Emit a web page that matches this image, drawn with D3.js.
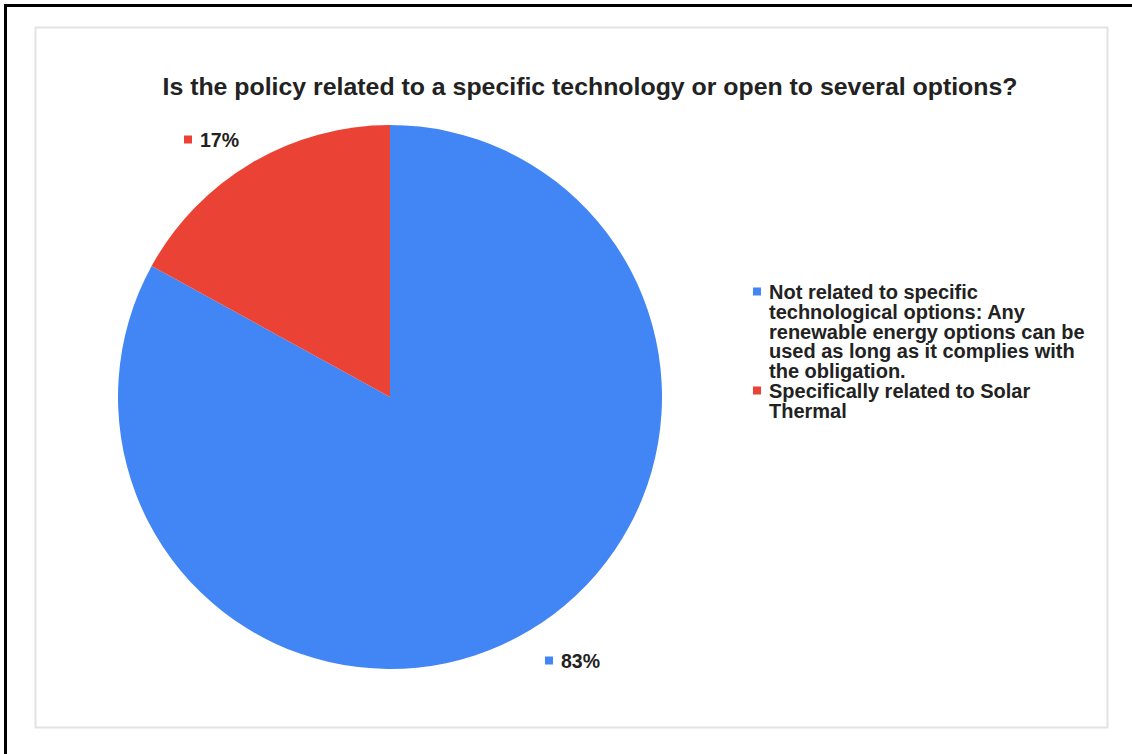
<!DOCTYPE html>
<html><head><meta charset="utf-8">
<script src="https://cdn.jsdelivr.net/npm/d3@7"></script>
<style>body{margin:0;background:#fff}svg{display:block}</style>
</head><body>
<script>
const title = "Is the policy related to a specific technology or open to several options?";
const categories = ["Not related to specific technological options: Any renewable energy options can be used as long as it complies with the obligation.", "Specifically related to Solar Thermal"];
const values = [83, 17];
const colors = ["#4285F4", "#EA4335"];
const legendLines = [["Not related to specific", "technological options: Any", "renewable energy options can be", "used as long as it complies with", "the obligation."], ["Specifically related to Solar", "Thermal"]];
const valueLabels = ["83%", "17%"];

const W = 1132, H = 754;
const svg = d3.select("body").append("svg").attr("width", W).attr("height", H);
const font = "'Liberation Sans', Arial, sans-serif";

// outer black border (top & left visible)
svg.append("rect").attr("x", 5.5).attr("y", 5.5).attr("width", W + 10).attr("height", H + 10)
  .attr("fill", "none").attr("stroke", "#000").attr("stroke-width", 3);
// inner chart box
svg.append("rect").attr("x", 35.5).attr("y", 27.5).attr("width", 1072).attr("height", 700)
  .attr("fill", "#fff").attr("stroke", "#e3e3e3").attr("stroke-width", 2);

svg.append("text").attr("x", 590).attr("y", 95).attr("text-anchor", "middle")
  .attr("font-family", font).attr("font-weight", "bold").attr("font-size", 24.5)
  .attr("textLength", 855).attr("lengthAdjust", "spacingAndGlyphs")
  .attr("fill", "#222").text(title);

const cx = 390, cy = 397, r = 272;
const pie = d3.pie().sort(null).value(d => d);
const arcs = pie(values);
const arc = d3.arc().innerRadius(0).outerRadius(r);
const g = svg.append("g").attr("transform", `translate(${cx},${cy})`);
g.selectAll("path").data(arcs).join("path").attr("d", arc)
  .attr("fill", (d, i) => colors[i]);

// value labels outside
const labelPos = [[545, 661], [184, 140]];
valueLabels.forEach((t, i) => {
  const [x, y] = labelPos[i];
  svg.append("rect").attr("x", x).attr("y", y - 4.5).attr("width", 8).attr("height", 8).attr("fill", colors[i]);
  svg.append("text").attr("x", x + 16).attr("y", y + 7).attr("font-family", font)
    .attr("font-weight", "bold").attr("font-size", 19.5).attr("fill", "#222").text(t);
});

// legend
const lh = 19.8;
let ly = 292;
legendLines.forEach((lines, i) => {
  svg.append("rect").attr("x", 753).attr("y", ly - 4.5).attr("width", 8).attr("height", 8).attr("fill", colors[i]);
  lines.forEach((ln, j) => {
    svg.append("text").attr("x", 769).attr("y", ly + 7 + j * lh).attr("font-family", font)
      .attr("font-weight", "bold").attr("font-size", 20).attr("fill", "#222").text(ln);
  });
  ly += lines.length * lh;
});
</script>
</body></html>
